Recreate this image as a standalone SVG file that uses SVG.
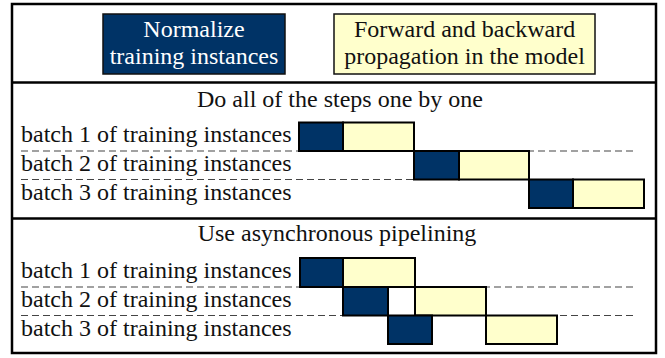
<svg xmlns="http://www.w3.org/2000/svg" width="665" height="358" viewBox="0 0 665 358">
<style>
text { font-family: "Liberation Serif", "Times New Roman", serif; font-size: 24px; fill: #111; }
.c { text-anchor: middle; }
.w { fill: #ffffff; }
.n { fill: #003366; stroke: #000; stroke-width: 2; }
.y { fill: #ffffcc; stroke: #000; stroke-width: 2; }
.ln { fill: #003366; stroke: #111; stroke-width: 1.5; }
.ly { fill: #ffffcc; stroke: #111; stroke-width: 1.5; }
.d { stroke: #444; stroke-width: 1.2; stroke-dasharray: 7 4; fill: none; }
.sep { stroke: #000; stroke-width: 2.5; fill: none; }
</style>
<rect x="0" y="0" width="665" height="358" fill="#fff"/>
<g id="frame">
<rect x="12" y="4" width="644" height="349" fill="#fff" stroke="#000" stroke-width="2.5"/>
<line class="sep" x1="12" y1="82.5" x2="656" y2="82.5"/>
<line class="sep" x1="12" y1="218.5" x2="656" y2="218.5"/>
</g>
<g id="legend-normalize">
<rect class="ln" x="103" y="14" width="182" height="60"/>
<text class="c w" x="194" y="37">Normalize</text>
<text class="c w" x="194" y="64">training instances</text>
</g>
<g id="legend-propagation">
<rect class="ly" x="334" y="14" width="261" height="60"/>
<text class="c" x="464.5" y="37">Forward and backward</text>
<text class="c" x="464.5" y="64">propagation in the model</text>
</g>
<g id="connectors">
<line class="d" x1="21" y1="151" x2="633" y2="151"/>
<line class="d" x1="21" y1="179.5" x2="633" y2="179.5"/>
<line class="d" x1="21" y1="287" x2="633" y2="287"/>
<line class="d" x1="21" y1="315.5" x2="633" y2="315.5"/>
</g>
<g id="sequential">
<text class="c" x="340" y="107">Do all of the steps one by one</text>
<text x="21" y="142">batch 1 of training instances</text>
<text x="21" y="171">batch 2 of training instances</text>
<text x="21" y="200">batch 3 of training instances</text>
<rect class="n" x="299" y="122.5" width="44" height="28.5"/>
<rect class="y" x="343" y="122.5" width="71" height="28.5"/>
<rect class="n" x="414" y="151" width="45" height="28.5"/>
<rect class="y" x="459" y="151" width="70" height="28.5"/>
<rect class="n" x="529" y="179.5" width="44" height="28.5"/>
<rect class="y" x="573" y="179.5" width="71" height="28.5"/>
</g>
<g id="pipelined">
<text class="c" x="337" y="241">Use asynchronous pipelining</text>
<text x="21" y="278">batch 1 of training instances</text>
<text x="21" y="307">batch 2 of training instances</text>
<text x="21" y="336">batch 3 of training instances</text>
<rect class="n" x="300" y="258" width="43" height="29"/>
<rect class="y" x="343" y="258" width="72" height="29"/>
<rect class="n" x="343" y="287" width="45" height="28.5"/>
<rect class="y" x="415" y="287" width="71" height="28.5"/>
<rect class="n" x="388" y="315.5" width="44" height="28.5"/>
<rect class="y" x="486" y="315.5" width="71" height="28.5"/>
</g>
</svg>
